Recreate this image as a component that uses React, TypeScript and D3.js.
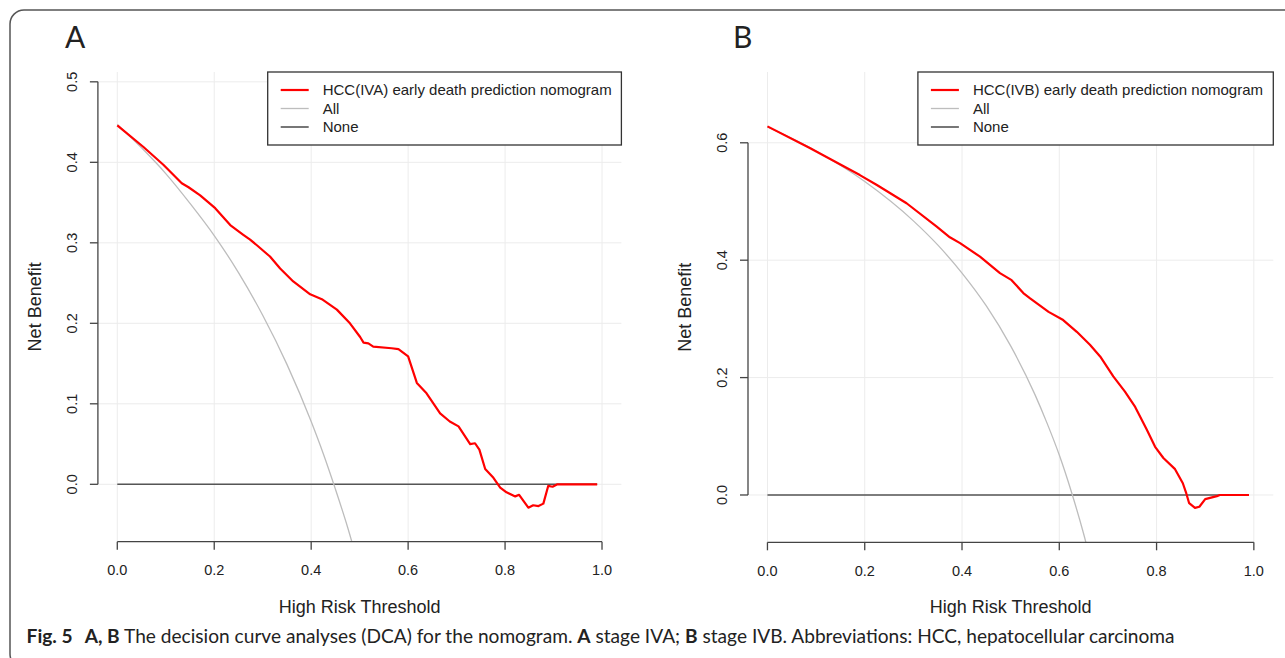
import React from 'react'
import * as d3 from 'd3'

// threshold axis ticks and net benefit ticks
const thresholdTicks = [0, 0.2, 0.4, 0.6, 0.8, 1.0]
const benefitTicksA = [0, 0.1, 0.2, 0.3, 0.4, 0.5]
const benefitTicksB = [0, 0.2, 0.4, 0.6]

// panel A - stage IVA
const nomogramA_t = [0, 0.054, 0.095, 0.133, 0.147, 0.171, 0.202, 0.233, 0.26, 0.274, 0.288, 0.315, 0.336, 0.363, 0.398, 0.422, 0.453, 0.48, 0.501, 0.508, 0.518, 0.528, 0.566, 0.58, 0.6, 0.618, 0.638, 0.666, 0.686, 0.704, 0.728, 0.738, 0.747, 0.759, 0.776, 0.79, 0.803, 0.821, 0.829, 0.848, 0.858, 0.869, 0.879, 0.889, 0.898, 0.908, 0.99]
const nomogramA_nb = [0.446, 0.419, 0.397, 0.374, 0.369, 0.359, 0.343, 0.322, 0.31, 0.304, 0.297, 0.283, 0.268, 0.252, 0.236, 0.23, 0.217, 0.2, 0.183, 0.176, 0.175, 0.171, 0.169, 0.168, 0.159, 0.126, 0.113, 0.088, 0.078, 0.072, 0.05, 0.051, 0.043, 0.019, 0.008, -0.004, -0.01, -0.015, -0.013, -0.029, -0.026, -0.027, -0.024, -0.002, -0.003, 0, 0]
const allA_t = [0, 0.05, 0.1, 0.15, 0.2, 0.25, 0.3, 0.35, 0.4, 0.425, 0.45, 0.475, 0.5]
const allA_nb = [0.447, 0.418, 0.386, 0.349, 0.309, 0.263, 0.21, 0.149, 0.078, 0.038, -0.006, -0.053, -0.106]
const noneA_t = [0, 0.99]
const noneA_nb = [0, 0]
const legendA = ['HCC(IVA) early death prediction nomogram', 'All', 'None']

// panel B - stage IVB
const nomogramB_t = [0, 0.087, 0.19, 0.225, 0.286, 0.348, 0.375, 0.396, 0.437, 0.478, 0.502, 0.526, 0.54, 0.578, 0.608, 0.636, 0.663, 0.684, 0.711, 0.735, 0.756, 0.78, 0.797, 0.814, 0.838, 0.854, 0.861, 0.867, 0.879, 0.888, 0.9, 0.924, 0.93, 0.99]
const nomogramB_nb = [0.628, 0.591, 0.545, 0.528, 0.497, 0.457, 0.439, 0.429, 0.406, 0.378, 0.366, 0.344, 0.335, 0.312, 0.298, 0.278, 0.256, 0.236, 0.202, 0.176, 0.15, 0.111, 0.082, 0.063, 0.044, 0.02, 0.003, -0.014, -0.022, -0.02, -0.007, -0.002, 0, 0]
const allB_t = [0, 0.1, 0.2, 0.3, 0.35, 0.4, 0.45, 0.5, 0.55, 0.575, 0.6, 0.625, 0.65, 0.675]
const allB_nb = [0.627, 0.586, 0.534, 0.467, 0.426, 0.378, 0.322, 0.254, 0.171, 0.122, 0.068, 0.005, -0.066, -0.148]
const noneB_t = [0, 0.99]
const noneB_nb = [0, 0]
const legendB = ['HCC(IVB) early death prediction nomogram', 'All', 'None']

const FONT = '"Liberation Sans", Arial, sans-serif'
const AXIS = '#444'

function zip(t, v) {
  return t.map((d, i) => [d, v[i]])
}

function Panel(props) {
  const { id, letter, region, yDomain, yTicks, nomogram, all, none, legend, legendLeft } = props
  const x = d3.scaleLinear().domain([-0.04, 1.04]).range([region.x0, region.x1])
  const y = d3.scaleLinear().domain(yDomain).range([region.y1, region.y0])
  const line = d3.line().x(d => x(d[0])).y(d => y(d[1]))
  const smooth = d3.line().x(d => x(d[0])).y(d => y(d[1])).curve(d3.curveMonotoneX)

  const yMax = yTicks[yTicks.length - 1]
  const lgTop = region.y0
  const rows = [
    { label: legend[0], color: '#ff0000', w: 2.2 },
    { label: legend[1], color: '#bdbdbd', w: 1.3 },
    { label: legend[2], color: '#555', w: 1.6 }
  ]

  return (
    <g>
      <defs>
        <clipPath id={'clip' + id}>
          <rect x={region.x0} y={region.y0} width={region.x1 - region.x0} height={region.y1 - region.y0} />
        </clipPath>
      </defs>
      <text x={letter.x} y={48} fontFamily="Lato, sans-serif" fontSize={30} fill="#222">{letter.text}</text>

      {/* grid */}
      {thresholdTicks.map(t => (
        <line key={'gx' + t} x1={x(t)} x2={x(t)} y1={region.y0} y2={region.y1} stroke="#ececec" strokeWidth={1} />
      ))}
      {yTicks.map(t => (
        <line key={'gy' + t} x1={region.x0} x2={region.x1} y1={y(t)} y2={y(t)} stroke="#ececec" strokeWidth={1} />
      ))}

      <g clipPath={'url(#clip' + id + ')'}>
        <path d={line(zip(none[0], none[1]))} fill="none" stroke="#555" strokeWidth={1.6} />
        <path d={smooth(zip(all[0], all[1]))} fill="none" stroke="#bdbdbd" strokeWidth={1.3} />
        <path d={line(zip(nomogram[0], nomogram[1]))} fill="none" stroke="#ff0000" strokeWidth={2.2} strokeLinejoin="round" />
      </g>

      {/* y axis */}
      <line x1={region.x0} x2={region.x0} y1={y(0)} y2={y(yMax)} stroke={AXIS} strokeWidth={1.3} />
      {yTicks.map(t => (
        <g key={'ty' + t}>
          <line x1={region.x0 - 8} x2={region.x0} y1={y(t)} y2={y(t)} stroke={AXIS} strokeWidth={1.3} />
          <text transform={`translate(${region.x0 - 21},${y(t)}) rotate(-90)`} textAnchor="middle"
            fontFamily={FONT} fontSize={14.5} fill="#222">{t.toFixed(1)}</text>
        </g>
      ))}
      <text transform={`translate(${region.x0 - 57},${(region.y0 + region.y1) / 2}) rotate(-90)`} textAnchor="middle"
        fontFamily={FONT} fontSize={18} fill="#222">Net Benefit</text>

      {/* x axis */}
      <line x1={x(0)} x2={x(1)} y1={region.y1} y2={region.y1} stroke={AXIS} strokeWidth={1.3} />
      {thresholdTicks.map(t => (
        <g key={'tx' + t}>
          <line x1={x(t)} x2={x(t)} y1={region.y1} y2={region.y1 + 8} stroke={AXIS} strokeWidth={1.3} />
          <text x={x(t)} y={region.y1 + 33.5} textAnchor="middle" fontFamily={FONT} fontSize={14.5} fill="#222">{t.toFixed(1)}</text>
        </g>
      ))}
      <text x={(region.x0 + region.x1) / 2} y={region.y1 + 71} textAnchor="middle" fontFamily={FONT} fontSize={18} fill="#222">High Risk Threshold</text>

      {/* legend */}
      <rect x={legendLeft} y={lgTop} width={region.x1 - legendLeft} height={73} fill="#fff" stroke="#333" strokeWidth={1.3} />
      {rows.map((r, i) => (
        <g key={'lg' + i}>
          <line x1={legendLeft + 13} x2={legendLeft + 41} y1={lgTop + 18 + i * 18.5} y2={lgTop + 18 + i * 18.5} stroke={r.color} strokeWidth={r.w} />
          <text x={legendLeft + 55} y={lgTop + 23.3 + i * 18.5} fontFamily={FONT} fontSize={15} fill="#222">{r.label}</text>
        </g>
      ))}
    </g>
  )
}

export default function App() {
  return (
    <svg width={1285} height={658} style={{ position: 'absolute', left: 0, top: 0, background: '#fff' }}>
      <rect x={10} y={10} width={1300} height={658} rx={14} fill="#fff" stroke="#555" strokeWidth={1.5} />
      <Panel id="A" letter={{ text: 'A', x: 65 }}
        region={{ x0: 97.9, x1: 621.4, y0: 72, y1: 541.7 }} yDomain={[-0.0713, 0.5122]} yTicks={benefitTicksA}
        nomogram={[nomogramA_t, nomogramA_nb]} all={[allA_t, allA_nb]} none={[noneA_t, noneA_nb]}
        legend={legendA} legendLeft={267.7} />
      <Panel id="B" letter={{ text: 'B', x: 733 }}
        region={{ x0: 748, x1: 1273.3, y0: 72, y1: 542.3 }} yDomain={[-0.0806, 0.7206]} yTicks={benefitTicksB}
        nomogram={[nomogramB_t, nomogramB_nb]} all={[allB_t, allB_nb]} none={[noneB_t, noneB_nb]}
        legend={legendB} legendLeft={917.9} />
      <text x={26.6} y={643} fontFamily="Lato, sans-serif" fontSize={19} fill="#222" textLength={1148} lengthAdjust="spacingAndGlyphs">
        <tspan fontWeight="bold">Fig. 5</tspan>
        <tspan dx={12} fontWeight="bold">A, B</tspan>
        <tspan> The decision curve analyses (DCA) for the nomogram. </tspan>
        <tspan fontWeight="bold">A</tspan>
        <tspan> stage IVA; </tspan>
        <tspan fontWeight="bold">B</tspan>
        <tspan> stage IVB. Abbreviations: HCC, hepatocellular carcinoma</tspan>
      </text>
    </svg>
  )
}
